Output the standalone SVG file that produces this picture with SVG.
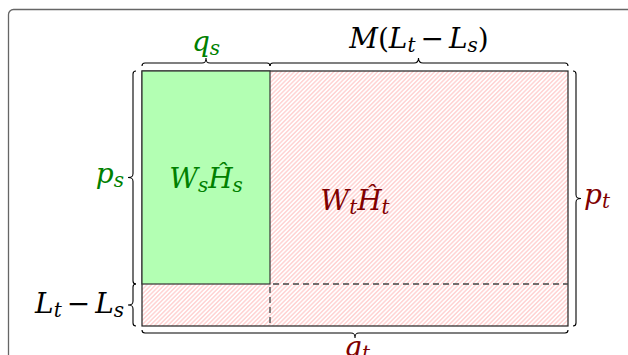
<svg xmlns="http://www.w3.org/2000/svg" width="628" height="355" viewBox="0 0 628 355">
<defs>
<pattern id="hatch" patternUnits="userSpaceOnUse" width="3.1" height="3.1" patternTransform="rotate(45)">
<line x1="1.55" y1="-1" x2="1.55" y2="4.1" stroke="#ffc4c4" stroke-width="1.1"/>
</pattern>
</defs>
<style>
.t{font-family:'DejaVu Serif',serif;font-style:italic;font-size:28px}
.n{font-style:normal}
.g{fill:#008000}
.r{fill:#800000}
.k{fill:#000}
.br{fill:none;stroke:#000;stroke-width:1.1}
.ds{fill:none;stroke:#444;stroke-width:1.3;stroke-dasharray:6 4}
</style>
<rect x="8.5" y="9.5" width="700" height="400" rx="5" fill="none" stroke="#666" stroke-width="1.3"/>
<g id="target">
<rect x="142" y="71" width="426" height="255" fill="url(#hatch)" stroke="#222" stroke-width="1.2"/>
</g>
<g id="source">
<rect x="142" y="71" width="128" height="213" fill="#b3ffb3" stroke="#333" stroke-width="1.2"/>
</g>
<g id="connectors">
<line class="ds" x1="273" y1="284" x2="568" y2="284"/>
<line class="ds" x1="270" y1="287" x2="270" y2="326"/>
<path class="br" d="M142,66 Q142,63 145,63 L202,63 C205,63 206,62 206,58 C206,62 207,63 210,63 L267,63 Q270,63 270,66"/>
<path class="br" d="M270,66 Q270,63 273,63 L414,63 C417,63 418.5,62 418.5,58 C418.5,62 420,63 423,63 L565,63 Q568,63 568,66"/>
<path class="br" d="M136,71 Q133,71 133,74 L133,173.5 C133,176.5 132,177.5 128,177.5 C132,177.5 133,178.5 133,181.5 L133,281 Q133,284 136,284"/>
<path class="br" d="M136,284 Q133,284 133,287 L133,301 C133,304 132,305 128,305 C132,305 133,306 133,309 L133,323 Q133,326 136,326"/>
<path class="br" d="M573,71 Q576,71 576,74 L576,194.5 C576,197.5 577,198.5 581,198.5 C577,198.5 576,199.5 576,202.5 L576,323 Q576,326 573,326"/>
<path class="br" d="M142,330 Q142,333 145,333 L351,333 C354,333 355,334 355,338 C355,334 356,333 359,333 L565,333 Q568,333 568,330"/>
</g>
<g id="labels">
<text class="t g" x="206" y="51" text-anchor="middle">q<tspan font-size="20" dy="4">s</tspan></text>
<text class="t k" x="419" y="48" text-anchor="middle">M<tspan class="n">(</tspan>L<tspan font-size="20" dy="4">t</tspan><tspan class="n" dy="-4" dx="5">−</tspan><tspan dx="5">L</tspan><tspan font-size="20" dy="4">s</tspan><tspan class="n" dy="-4">)</tspan></text>
<text class="t g" x="124" y="183" text-anchor="end">p<tspan font-size="20" dy="4">s</tspan></text>
<text class="t k" x="124" y="313" text-anchor="end">L<tspan font-size="20" dy="4">t</tspan><tspan class="n" dy="-4" dx="5">−</tspan><tspan dx="5">L</tspan><tspan font-size="20" dy="4">s</tspan></text>
<text class="t g" x="206" y="188" text-anchor="middle">W<tspan font-size="20" dy="4">s</tspan><tspan dy="-4">Ĥ</tspan><tspan font-size="20" dy="4">s</tspan></text>
<text class="t r" x="355" y="210" text-anchor="middle">W<tspan font-size="20" dy="4">t</tspan><tspan dy="-4">Ĥ</tspan><tspan font-size="20" dy="4">t</tspan></text>
<text class="t r" x="584" y="204">p<tspan font-size="20" dy="4">t</tspan></text>
<text class="t r" x="357" y="356" text-anchor="middle">q<tspan font-size="20" dy="4">t</tspan></text>
</g>
</svg>
